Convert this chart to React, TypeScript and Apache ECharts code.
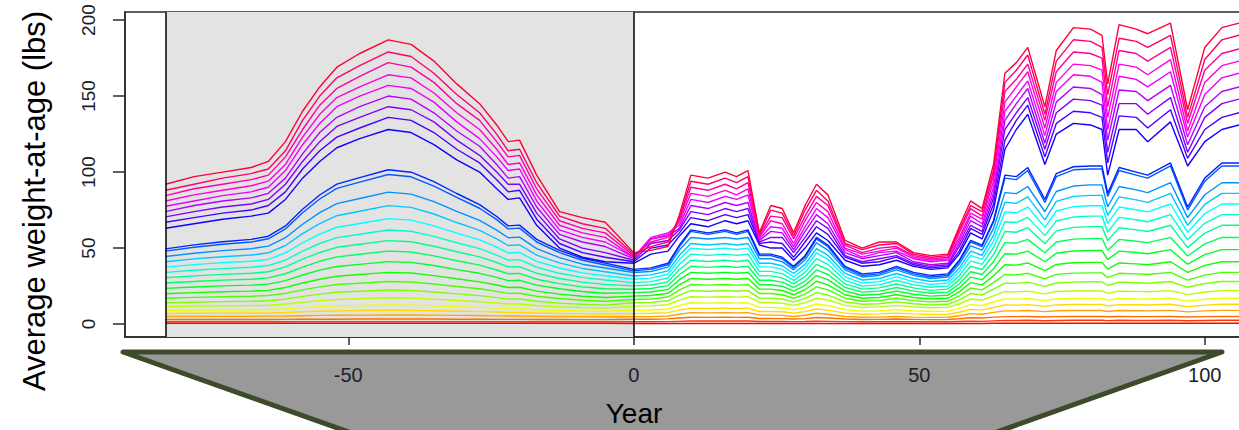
import React, { useEffect, useRef } from "react";
import * as echarts from "echarts";

// Sample years: historical (shaded) period then projection period
const YEARS = [
  -82, -77, -72, -67, -64, -61, -58, -55, -52, -48, -43, -39, -35, -31, -27, -24, -22, -20, -17, -13, -9, -5,
  0, 3, 6, 8, 10, 13, 16, 18, 20, 22, 24, 26, 28, 30, 32, 34, 37, 40, 43, 46, 49, 52, 55, 57, 59, 61,
  63, 65, 67, 69, 72, 74, 77, 80, 82, 83, 85, 88, 90, 94, 97, 100, 103, 106,
];

// Average weight-at-age (lbs) per age class, youngest first
const AGE_00 = [
  0.5, 0.5, 0.5, 0.5, 0.5, 0.5, 0.5, 0.5, 0.5, 0.5, 0.5, 0.5, 0.5, 0.5, 0.5, 0.5, 0.5, 0.5, 0.5, 0.5, 0.5, 0.5,
  0.4, 0.4, 0.4, 0.4, 0.4, 0.4, 0.4, 0.4, 0.4, 0.4, 0.4, 0.4, 0.4, 0.4, 0.4, 0.4, 0.4, 0.4, 0.4, 0.4, 0.4, 0.4, 0.4, 0.4, 0.4, 0.4,
  0.5, 0.5, 0.5, 0.5, 0.5, 0.5, 0.5, 0.5, 0.5, 0.5, 0.5, 0.5, 0.5, 0.5, 0.5, 0.5, 0.5, 0.5,
];
const AGE_01 = [
  1.5, 1.5, 1.5, 1.5, 1.5, 1.5, 1.6, 1.6, 1.6, 1.6, 1.6, 1.6, 1.6, 1.6, 1.6, 1.5, 1.5, 1.5, 1.5, 1.5, 1.5, 1.5,
  1.5, 1.5, 1.6, 1.8, 2, 2, 2, 2, 2, 1.7, 1.7, 1.7, 1.6, 1.7, 1.9, 1.8, 1.6, 1.5, 1.5, 1.6, 1.5, 1.5, 1.5, 1.7, 1.9, 1.8,
  2.1, 2.4, 2.4, 2.5, 2.2, 2.4, 2.5, 2.5, 2.5, 2.3, 2.5, 2.4, 2.4, 2.5, 2.2, 2.4, 2.5, 2.5,
];
const AGE_02 = [
  3, 3, 3, 3, 3, 3.1, 3.2, 3.2, 3.2, 3.3, 3.3, 3.3, 3.3, 3.2, 3.2, 3.1, 3.1, 3.1, 3, 3, 2.9, 2.9,
  3.2, 3.2, 3.4, 4, 4.5, 4.4, 4.5, 4.4, 4.5, 3.7, 3.7, 3.6, 3.3, 3.6, 4.3, 4, 3.3, 3, 3.1, 3.3, 3.1, 2.9, 3, 3.5, 4.2, 4,
  4.6, 4.9, 4.9, 5, 4.7, 4.9, 5, 5, 5, 4.8, 5, 4.9, 4.9, 5, 4.7, 4.9, 5, 5,
];
const AGE_03 = [
  5, 5.1, 5.1, 5.1, 5.2, 5.3, 5.5, 5.7, 5.8, 5.9, 6, 6, 5.9, 5.7, 5.6, 5.4, 5.3, 5.3, 5.1, 5, 4.9, 4.8,
  4.8, 4.9, 5.3, 6.5, 7.5, 7.4, 7.5, 7.4, 7.5, 5.9, 5.9, 5.7, 5, 5.8, 7.1, 6.5, 5, 4.5, 4.6, 5, 4.6, 4.4, 4.5, 5.5, 6.9, 6.5,
  7.7, 8.7, 8.7, 8.9, 8.2, 8.8, 8.9, 8.9, 8.9, 8.3, 8.9, 8.8, 8.7, 9, 8, 8.7, 9, 9,
];
const AGE_04 = [
  7, 7.1, 7.2, 7.3, 7.3, 7.6, 8.1, 8.4, 8.7, 8.9, 9.1, 9, 8.8, 8.5, 8.2, 7.9, 7.6, 7.6, 7.3, 7, 6.7, 6.6,
  6.9, 7.1, 7.5, 9.2, 10.5, 10.3, 10.5, 10.3, 10.5, 8.3, 8.3, 8.1, 7.2, 8.2, 9.9, 9.2, 7.2, 6.5, 6.7, 7.2, 6.7, 6.3, 6.5, 7.8, 9.7, 9.2,
  10.9, 12.6, 12.5, 12.8, 11.7, 12.6, 12.9, 12.9, 12.9, 11.9, 12.8, 12.7, 12.6, 13, 11.4, 12.5, 13, 13,
];
const AGE_05 = [
  9, 9.2, 9.3, 9.4, 9.6, 10, 10.8, 11.5, 12, 12.2, 12.6, 12.5, 12.1, 11.5, 11, 10.5, 10, 10.1, 9.4, 8.9, 8.6, 8.4,
  9.1, 9.3, 9.9, 12.2, 14, 13.8, 14, 13.8, 14, 11, 11, 10.6, 9.5, 10.9, 13.2, 12.2, 9.5, 8.5, 8.7, 9.5, 8.7, 8.3, 8.5, 10.3, 12.8, 12.2,
  14.5, 16.5, 16.4, 16.8, 15.4, 16.5, 16.8, 16.9, 16.9, 15.7, 16.8, 16.6, 16.5, 17, 15.1, 16.3, 17, 17,
];
const AGE_06 = [
  11.5, 11.8, 12, 12.2, 12.4, 13.2, 14.4, 15.4, 16.2, 16.7, 17.3, 17.1, 16.4, 15.5, 14.7, 13.9, 13.2, 13.2, 12.2, 11.4, 10.8, 10.5,
  11.8, 12, 12.8, 15.8, 18, 17.7, 18, 17.7, 18, 14.2, 14.2, 13.7, 12.3, 14, 17, 15.8, 12.3, 11, 11.3, 12.3, 11.3, 10.7, 11, 13.2, 16.5, 15.8,
  18.6, 21.3, 21.2, 21.7, 19.9, 21.4, 21.8, 21.8, 21.8, 20.2, 21.7, 21.5, 21.3, 22, 19.4, 21.1, 22, 22,
];
const AGE_07 = [
  14, 14.4, 14.8, 15, 15.3, 16.4, 18.2, 19.7, 20.9, 21.6, 22.4, 22.2, 21.1, 19.9, 18.7, 17.4, 16.4, 16.5, 15, 13.8, 13, 12.5,
  14, 14.3, 15.3, 19.1, 22, 21.6, 22, 21.6, 22, 17.1, 17.1, 16.5, 14.6, 16.9, 20.7, 19.1, 14.6, 13, 13.4, 14.6, 13.4, 12.6, 13, 15.9, 20.1, 19.1,
  23, 26.9, 26.8, 27.6, 24.8, 27, 27.6, 27.8, 27.8, 25.4, 27.6, 27.2, 26.9, 28, 24.2, 26.7, 28, 28,
];
const AGE_08 = [
  17, 17.6, 18, 18.3, 18.8, 20.2, 22.5, 24.5, 26, 26.9, 28, 27.7, 26.4, 24.7, 23.2, 21.5, 20.2, 20.3, 18.3, 16.8, 15.7, 15,
  16.2, 16.5, 17.8, 22.5, 26, 25.6, 26, 25.6, 26, 20.1, 20.1, 19.3, 17, 19.7, 24.5, 22.5, 17, 15, 15.4, 17, 15.4, 14.6, 15, 18.5, 23.7, 22.5,
  27.3, 32.6, 32.4, 33.4, 29.8, 32.7, 33.5, 33.7, 33.7, 30.5, 33.4, 33, 32.6, 34, 28.9, 32.2, 34, 34,
];
const AGE_09 = [
  20, 20.7, 21.3, 21.7, 22.2, 24.1, 27, 29.5, 31.5, 32.6, 34, 33.6, 31.9, 29.8, 27.8, 25.7, 24.1, 24.2, 21.7, 19.7, 18.3, 17.5,
  18.4, 18.8, 20.3, 25.8, 30, 29.5, 30, 29.5, 30, 23, 23, 22.1, 19.3, 22.6, 28.2, 25.8, 19.3, 17, 17.5, 19.3, 17.5, 16.5, 17, 21.2, 27.3, 25.8,
  31.8, 39, 38.8, 40.2, 35.2, 39.2, 40.3, 40.6, 40.6, 36.2, 40.2, 39.6, 39, 41, 34, 38.6, 41, 41,
];
const AGE_10 = [
  23.5, 24.4, 25.1, 25.6, 26.3, 28.6, 32.3, 35.5, 37.9, 39.3, 41.1, 40.6, 38.5, 35.8, 33.4, 30.7, 28.6, 28.8, 25.6, 23.2, 21.4, 20.3,
  20.7, 21.1, 22.8, 29.2, 34, 33.4, 34, 33.4, 34, 25.9, 25.9, 24.9, 21.7, 25.5, 31.9, 29.2, 21.7, 19, 19.6, 21.7, 19.6, 18.4, 19, 23.8, 30.9, 29.2,
  36.4, 46.3, 46, 48, 41, 46.6, 48.1, 48.4, 48.4, 42.4, 48, 47.1, 46.3, 49, 39.4, 45.7, 49, 49,
];
const AGE_11 = [
  27, 28, 28.9, 29.5, 30.4, 33.1, 37.5, 41.3, 44.2, 45.9, 48, 47.4, 44.9, 41.7, 38.8, 35.6, 33.1, 33.3, 29.5, 26.6, 24.5, 23.2,
  22.9, 23.4, 25.3, 32.6, 38, 37.3, 38, 37.3, 38, 28.8, 28.8, 27.6, 24.1, 28.3, 35.6, 32.6, 24.1, 21, 21.7, 24.1, 21.7, 20.3, 21, 26.4, 34.4, 32.6,
  41, 53.6, 53.2, 55.7, 46.9, 54, 55.9, 56.2, 56.2, 48.6, 55.7, 54.5, 53.6, 57, 44.8, 52.8, 57, 57,
];
const AGE_12 = [
  30.5, 31.7, 32.7, 33.4, 34.4, 37.6, 42.7, 47.1, 50.5, 52.5, 54.9, 54.2, 51.2, 47.6, 44.2, 40.5, 37.6, 37.8, 33.4, 30, 27.6, 26.1,
  25.1, 25.7, 27.8, 35.9, 42, 41.2, 42, 41.2, 42, 31.7, 31.7, 30.4, 26.4, 31.2, 39.3, 35.9, 26.4, 23, 23.8, 26.4, 23.8, 22.2, 23, 29.1, 38, 35.9,
  45.7, 60.9, 60.4, 63.4, 52.8, 61.3, 63.6, 64.1, 64.1, 54.9, 63.4, 62, 60.9, 65, 50.3, 59.9, 65, 65,
];
const AGE_13 = [
  34, 35.4, 36.5, 37.4, 38.5, 42.1, 48, 53, 56.9, 59.1, 61.9, 61.1, 57.7, 53.5, 49.6, 45.4, 42.1, 42.4, 37.4, 33.4, 30.7, 29,
  27.3, 27.9, 30.3, 39.3, 46, 45.2, 46, 45.2, 46, 34.7, 34.7, 33.2, 28.8, 34, 43.1, 39.3, 28.8, 25, 25.8, 28.8, 25.8, 24.2, 25, 31.7, 41.6, 39.3,
  50.2, 67.3, 66.8, 70.2, 58.2, 67.8, 70.4, 71, 71, 60.6, 70.2, 68.6, 67.3, 72, 55.4, 66.3, 72, 72,
];
const AGE_14 = [
  37.5, 39.1, 40.4, 41.3, 42.6, 46.8, 53.5, 59.2, 63.7, 66.2, 69.4, 68.4, 64.6, 59.8, 55.4, 50.6, 46.8, 47.1, 41.3, 36.9, 33.7, 31.8,
  29.5, 30.2, 32.8, 42.6, 50, 49.1, 50, 49.1, 50, 37.6, 37.6, 36, 31.1, 36.9, 46.8, 42.6, 31.1, 27, 27.9, 31.1, 27.9, 26.1, 27, 34.4, 45.2, 42.6,
  54.6, 73.8, 73.2, 77, 63.6, 74.4, 77.3, 77.8, 77.8, 66.2, 77, 75.2, 73.8, 79, 60.4, 72.6, 79, 79,
];
const AGE_15 = [
  41, 42.9, 44.3, 45.4, 46.9, 51.7, 59.5, 66.1, 71.3, 74.2, 77.9, 76.8, 72.4, 66.8, 61.7, 56.1, 51.7, 52.1, 45.4, 40.3, 36.6, 34.4,
  31.6, 32.4, 35, 45.3, 53, 52, 53, 52, 53, 40, 40, 38.4, 33.3, 39.3, 49.6, 45.3, 33.3, 29, 30, 33.3, 30, 28, 29, 36.7, 48, 45.3,
  58.3, 80.1, 79.4, 83.7, 68.5, 80.7, 84, 84.7, 84.7, 71.5, 83.7, 81.7, 80.1, 86, 64.9, 78.7, 86, 86,
];
const AGE_16 = [
  44.5, 46.6, 48.3, 49.6, 51.3, 56.8, 65.7, 73.3, 79.2, 82.6, 86.8, 85.5, 80.5, 74.1, 68.2, 61.8, 56.8, 57.2, 49.6, 43.7, 39.4, 36.9,
  33.9, 34.6, 37.5, 48.7, 57, 56, 57, 56, 57, 43, 43, 41.1, 35.7, 42.2, 53.4, 48.7, 35.7, 31, 32, 35.7, 32, 30, 31, 39.3, 51.5, 48.7,
  62.8, 86.5, 85.8, 90.5, 73.9, 87.2, 90.8, 91.6, 91.6, 77.2, 90.5, 88.3, 86.5, 93, 70, 85.1, 93, 93,
];
const AGE_17 = [
  48, 50.5, 52.5, 54, 56.1, 62.6, 73.2, 82.3, 89.3, 93.4, 98.4, 96.9, 90.8, 83.3, 76.2, 68.7, 62.6, 63.1, 54, 47, 42, 38.9,
  35, 36, 39, 51, 61, 59, 61, 59, 61, 45, 45, 43, 37, 44, 56, 51, 37, 32, 33, 37, 33, 31, 32, 41, 54, 51,
  67, 96, 95, 101, 80, 97, 101.5, 102, 102, 84, 101, 98, 96, 104, 75, 94, 104, 104,
];
const AGE_18 = [
  49.5, 52.1, 54.2, 55.7, 57.8, 64.6, 75.5, 84.9, 92.1, 96.3, 101.5, 99.9, 93.7, 85.9, 78.6, 70.8, 64.6, 65.1, 55.7, 48.5, 43.3, 40.1,
  36, 37, 40, 52, 62, 60, 62, 60, 62, 46, 46, 44, 38, 45, 57, 52, 38, 33, 34, 38, 34, 32, 33, 42, 55, 52,
  68, 98, 97, 103, 82, 99, 103.5, 104, 104, 86, 103, 100, 98, 106, 77, 96, 106, 106,
];
const AGE_19 = [
  63, 66, 69, 71, 73, 82, 96, 107, 116, 122, 128, 126, 118, 108, 100, 89, 82, 83, 65, 50, 44, 41,
  40, 46, 48, 58, 66, 64, 68, 66, 68, 52, 50, 50, 42, 50, 60, 55, 42, 38, 39, 42, 38, 36, 37, 46, 60, 56,
  75, 115, 128, 138, 105, 125, 132, 131, 128, 98, 128, 128, 120, 133, 104, 120, 128, 131,
];
const AGE_20 = [
  67, 70, 73, 75, 78, 87, 102, 114, 123, 129, 136, 134, 126, 115, 106, 95, 87, 88, 69, 53, 47, 44,
  41, 50, 52, 60, 70, 68, 72, 70, 72, 53, 54, 53, 44, 54, 64, 59, 44, 40, 41, 44, 39, 37, 38, 48, 63, 59,
  79, 121, 134, 144, 110, 132, 140, 139, 136, 106, 137, 136, 129, 141, 109, 128, 136, 139,
];
const AGE_21 = [
  70.5, 74, 77, 79, 82, 92, 107, 120, 130, 136, 143, 141, 133, 121, 111, 100, 92, 92, 73, 56, 50, 47,
  42, 53, 55, 62, 74, 72, 76, 74, 76, 54, 57, 57, 47, 57, 68, 63, 45, 41, 43, 45, 40, 38, 39, 51, 65, 61,
  83, 128, 139, 149, 115, 139, 148, 147, 144, 113, 145, 145, 138, 149, 113, 136, 145, 148,
];
const AGE_22 = [
  74, 78, 81, 83, 86, 96, 112, 126, 136, 143, 150, 148, 139, 127, 117, 105, 96, 97, 77, 59, 54, 51,
  43, 56, 58, 63, 78, 76, 80, 78, 80, 55, 61, 60, 49, 61, 72, 66, 47, 43, 45, 47, 41, 39, 40, 53, 68, 64,
  86, 134, 145, 155, 119, 146, 156, 155, 151, 121, 154, 153, 147, 157, 118, 143, 153, 156,
];
const AGE_23 = [
  77.5, 81, 84.5, 87, 90, 101, 118, 132, 143, 150, 157, 155, 146, 133, 122, 110, 101, 102, 81, 62, 57, 54,
  44, 57, 60, 65, 82, 80, 84, 82, 85, 56, 64, 63, 51, 64, 76, 70, 49, 44, 47, 48, 43, 41, 42, 55, 71, 66,
  90, 140, 150, 160, 124, 153, 164, 163, 159, 128, 163, 161, 156, 166, 123, 151, 162, 165,
];
const AGE_24 = [
  81, 85, 88, 91, 94, 105, 123, 138, 149, 156, 164, 162, 152, 139, 128, 115, 105, 106, 85, 65, 60, 57,
  44, 56, 59, 67, 86, 84, 88, 85, 89, 57, 68, 66, 53, 68, 80, 74, 50, 46, 48, 50, 44, 42, 43, 57, 73, 69,
  94, 146, 156, 166, 129, 159, 171, 170, 167, 136, 171, 169, 164, 174, 127, 159, 170, 173,
];
const AGE_25 = [
  84.5, 89, 92, 95, 98, 110, 128, 144, 155, 163, 172, 169, 159, 145, 134, 120, 110, 111, 89, 68, 63, 60,
  45, 54, 57, 69, 90, 88, 92, 89, 93, 58, 71, 70, 56, 71, 84, 78, 52, 47, 50, 51, 45, 43, 44, 60, 76, 71,
  98, 153, 161, 171, 134, 166, 179, 178, 175, 143, 180, 178, 173, 182, 132, 167, 178, 181,
];
const AGE_26 = [
  88, 92, 96, 99, 102, 114, 134, 150, 162, 170, 179, 176, 165, 151, 139, 125, 114, 115, 93, 71, 66, 63,
  46, 51, 54, 70, 94, 92, 96, 93, 97, 59, 75, 73, 58, 75, 88, 81, 53, 49, 52, 53, 46, 44, 45, 62, 78, 74,
  101, 159, 167, 177, 138, 173, 187, 186, 182, 151, 188, 186, 182, 190, 136, 174, 187, 190,
];
const AGE_27 = [
  92, 97, 100, 103, 107, 120, 140, 156, 169, 178, 187, 184, 173, 158, 145, 131, 120, 121, 98, 74, 70, 67,
  47, 48.5, 51, 72, 98, 96, 100, 97, 101, 60, 78, 76, 60, 78, 92, 85, 55, 50, 54, 54, 47, 45, 46, 64, 81, 76,
  105, 165, 172, 182, 143, 180, 195, 194, 190, 158, 197, 194, 191, 198, 141, 182, 195, 198,
];

const AGES = [
  AGE_00, AGE_01, AGE_02, AGE_03, AGE_04, AGE_05, AGE_06, AGE_07, AGE_08, AGE_09,
  AGE_10, AGE_11, AGE_12, AGE_13, AGE_14, AGE_15, AGE_16, AGE_17, AGE_18, AGE_19,
  AGE_20, AGE_21, AGE_22, AGE_23, AGE_24, AGE_25, AGE_26, AGE_27,
];

const X_TICKS = [-50, 0, 50, 100];
const Y_TICKS = [0, 50, 100, 150, 200];
const HIST_START = -82;
const HIST_END = 0;
const Y_TITLE = "Average weight-at-age (lbs)";
const X_TITLE = "Year";

const FONT = "'Liberation Sans', Arial, sans-serif";

function rainbow(i: number, n: number): string {
  const h = (i / n) * 6;
  const sector = Math.floor(h) % 6;
  const f = h - Math.floor(h);
  let r = 0, g = 0, b = 0;
  switch (sector) {
    case 0: r = 1; g = f; b = 0; break;
    case 1: r = 1 - f; g = 1; b = 0; break;
    case 2: r = 0; g = 1; b = f; break;
    case 3: r = 0; g = 1 - f; b = 1; break;
    case 4: r = f; g = 0; b = 1; break;
    default: r = 1; g = 0; b = 1 - f; break;
  }
  const hx = (v: number) => Math.round(v * 255).toString(16).padStart(2, "0");
  return "#" + hx(r) + hx(g) + hx(b);
}

export default function App() {
  const ref = useRef<HTMLDivElement>(null);

  useEffect(() => {
    if (!ref.current) return;
    const chart = echarts.init(ref.current, null, { renderer: "svg" });

    const lineSeries = AGES.map((vals, i) => {
      const color = rainbow(i, AGES.length);
      return {
        type: "line",
        data: YEARS.map((y, k) => [y, vals[k]]),
        showSymbol: false,
        symbol: "none",
        silent: true,
        z: 3,
        lineStyle: { width: 1.4, color },
        itemStyle: { color },
      };
    });

    chart.setOption({
      animation: false,
      grid: {
        left: 125,
        top: 12,
        width: 1142,
        height: 325,
        outerBoundsMode: "none",
        containLabel: false,
        show: true,
        borderColor: "#2a2a2a",
        borderWidth: 1.5,
      },
      xAxis: {
        type: "value",
        min: -89.1,
        max: 110.9,
        splitLine: { show: false },
        axisLine: { show: true, onZero: false, lineStyle: { color: "#2a2a2a", width: 1.5 } },
        axisTick: {
          show: true,
          customValues: X_TICKS,
          length: 8,
          lineStyle: { color: "#2a2a2a", width: 1.5 },
        },
        axisLabel: {
          customValues: X_TICKS,
          margin: 28,
          fontSize: 20,
          fontFamily: FONT,
          color: "#1e1e2a",
        },
      },
      yAxis: {
        type: "value",
        min: -8.5,
        max: 205.3,
        splitLine: { show: false },
        axisLine: { show: true, onZero: false, lineStyle: { color: "#2a2a2a", width: 1.5 } },
        axisTick: {
          show: true,
          customValues: Y_TICKS,
          length: 12,
          lineStyle: { color: "#2a2a2a", width: 1.5 },
        },
        axisLabel: {
          customValues: Y_TICKS,
          rotate: 90,
          margin: 27,
          fontSize: 19,
          fontFamily: FONT,
          color: "#1e1e2a",
        },
      },
      graphic: {
        elements: [
          {
            type: "polygon",
            z: -1,
            shape: {
              points: [
                [123, 352],
                [1222, 352],
                [890, 470],
                [456, 470],
              ],
            },
            style: {
              fill: "#999999",
              stroke: "#3e4a2c",
              lineWidth: 5,
              lineJoin: "round",
            },
          },
          {
            type: "text",
            z: 100,
            x: 634,
            y: 413,
            style: {
              text: X_TITLE,
              fontSize: 28,
              fontFamily: FONT,
              fill: "#000",
              textAlign: "center",
              textVerticalAlign: "middle",
            },
          },
          {
            type: "text",
            z: 100,
            x: 34,
            y: 201,
            rotation: Math.PI / 2,
            style: {
              text: Y_TITLE,
              fontSize: 31,
              fontFamily: FONT,
              fill: "#000",
              textAlign: "center",
              textVerticalAlign: "middle",
            },
          },
        ],
      },
      series: [
        {
          type: "line",
          data: [],
          silent: true,
          z: 1,
          markArea: {
            silent: true,
            itemStyle: { color: "#e3e3e3", opacity: 1 },
            data: [[{ xAxis: HIST_START }, { xAxis: HIST_END }]],
          },
        },
        ...lineSeries,
        {
          type: "line",
          data: [],
          silent: true,
          z: 10,
          markLine: {
            silent: true,
            symbol: ["none", "none"],
            label: { show: false },
            lineStyle: { color: "#111", width: 1.6, type: "solid" },
            data: [{ xAxis: HIST_START }, { xAxis: HIST_END }],
          },
        },
      ],
    });

    return () => chart.dispose();
  }, []);

  return (
    <div
      ref={ref}
      style={{ position: "absolute", left: 0, top: 0, width: 1239, height: 430 }}
    />
  );
}
